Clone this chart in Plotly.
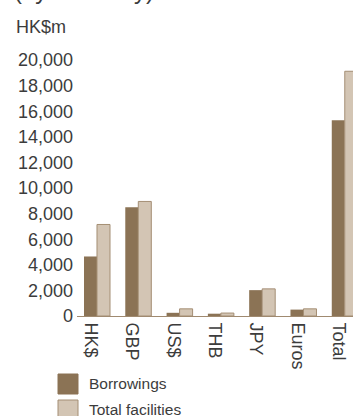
import plotly.graph_objects as go

# Borrowings and total facilities by currency, HK$ million
currencies = ["HK$", "GBP", "US$", "THB", "JPY", "Euros", "Total"]
borrowings = [4650, 8500, 250, 180, 2020, 500, 15300]
total_facilities = [7150, 8950, 560, 230, 2120, 560, 19120]
y_ticks = list(range(0, 20001, 2000))

W, H = 353, 416
ML, MR, MT, MB = 77, 0, 60, 100
PW, PH = W - ML - MR, H - MT - MB

BORROW_COL = "#8b7355"
FAC_COL = "#d3c5b4"
FAC_LINE = "#a48e74"
AXIS_COL = "#a08a70"
TEXT_COL = "#3c3c3c"
FONT = "Liberation Sans, Arial, sans-serif"


def px_x(px):
    return (px - ML) / PW


def px_y(py):
    return (H - MB - py) / PH


fig = go.Figure()
fig.add_bar(
    x=currencies, y=borrowings, name="Borrowings",
    marker=dict(color=BORROW_COL, line=dict(width=0)),
)
fig.add_bar(
    x=currencies, y=total_facilities, name="Total facilities",
    marker=dict(color=FAC_COL, line=dict(color=FAC_LINE, width=1)),
)

fig.update_layout(
    width=W, height=H,
    margin=dict(l=ML, r=MR, t=MT, b=MB),
    paper_bgcolor="white", plot_bgcolor="white",
    barmode="group", bargap=0.37, bargroupgap=0,
    showlegend=False,
    font=dict(family=FONT, color=TEXT_COL),
)

fig.update_xaxes(
    type="category",
    range=[-0.484, 6.199],
    showgrid=False, zeroline=False,
    showline=True, linecolor=AXIS_COL, linewidth=1,
    ticks="", tickangle=90,
    tickfont=dict(size=18, color=TEXT_COL, family=FONT),
    ticklabelshift=-6, ticklabelstandoff=2,
)
fig.update_yaxes(
    range=[0, 20000],
    tickvals=y_ticks,
    ticktext=[f"{v:,}" for v in y_ticks],
    showgrid=False, zeroline=False, showline=False,
    ticks="", ticklabelstandoff=3,
    tickfont=dict(size=18, color=TEXT_COL, family=FONT),
)

# Heading, partly above the top edge of the page
fig.add_annotation(
    text="(by currency)", xref="paper", yref="paper",
    x=px_x(12), y=px_y(-9.5), xanchor="left", yanchor="middle",
    showarrow=False, font=dict(size=24, color=TEXT_COL, family=FONT),
)
# Unit label
fig.add_annotation(
    text="HK$m", xref="paper", yref="paper",
    x=px_x(14), y=px_y(27), xanchor="left", yanchor="middle",
    showarrow=False, font=dict(size=18, color=TEXT_COL, family=FONT),
)

# Legend drawn as square swatches with labels
legend_items = [
    ("Borrowings", BORROW_COL, BORROW_COL, 374),
    ("Total facilities", FAC_COL, FAC_LINE, 400),
]
for label, fill, edge, top in legend_items:
    fig.add_shape(
        type="rect", xref="paper", yref="paper",
        x0=px_x(58), x1=px_x(78), y0=px_y(top + 20), y1=px_y(top),
        fillcolor=fill, line=dict(color=edge, width=1),
    )
    fig.add_annotation(
        text=label, xref="paper", yref="paper",
        x=px_x(87), y=px_y(top + 9.5), xanchor="left", yanchor="middle",
        showarrow=False, font=dict(size=15.5, color=TEXT_COL, family=FONT),
    )

fig.write_html("out.html")
